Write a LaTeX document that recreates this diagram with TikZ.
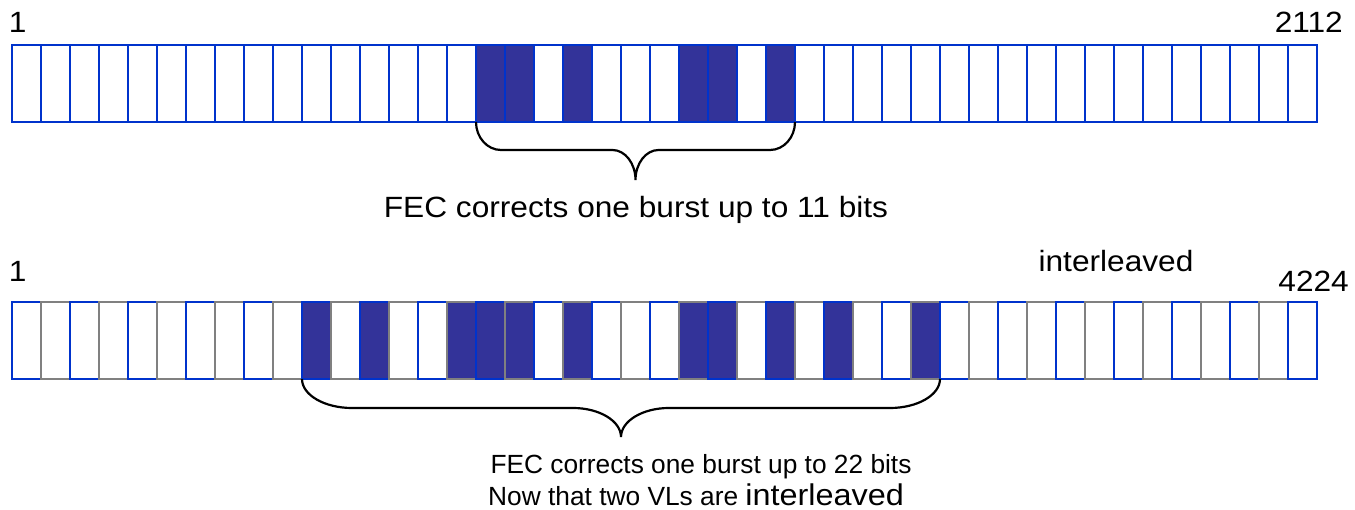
\documentclass[tikz,border=0pt]{standalone}
\usepackage{fontspec}
\setmainfont{Liberation Sans}
\newfontfamily\widefont{Liberation Sans}[FakeStretch=1.08]
\usetikzlibrary{calc}
\definecolor{vlblue}{RGB}{0,51,204}
\definecolor{shadefill}{RGB}{51,51,153}
\definecolor{vlgray}{RGB}{128,128,128}
\def\topshade{{0,0,0,0,0,0,0,0,0,0,0,0,0,0,0,0,1,1,0,1,0,0,0,1,1,0,1,0,0,0,0,0,0,0,0,0,0,0,0,0,0,0,0,0,0}}
\def\botshade{{0,0,0,0,0,0,0,0,0,0,1,0,1,0,0,1,1,1,0,1,0,0,0,1,1,0,1,0,1,0,0,1,0,0,0,0,0,0,0,0,0,0,0,0,0}}
\begin{document}
\begin{tikzpicture}[x=1pt,y=-1pt,
  cellbox/.style={draw, line width=2.4pt, inner sep=0pt, outer sep=0pt,
    minimum width=29pt, minimum height=77pt, anchor=north west},
  bigtext/.style={inner sep=0pt, font=\widefont\fontsize{29.3}{36}\selectfont},
  smalltext/.style={inner sep=0pt, font=\fontsize{26.3}{31}\selectfont},
  bracepath/.style={draw=black, line width=2.2pt}]
\useasboundingbox (0,0) rectangle (1355,510);
% top row
\foreach \i in {0,...,44}{
  \pgfmathtruncatemacro\s{\topshade[\i]}
  \ifnum\s=1 \def\cf{shadefill}\else\def\cf{white}\fi
  \node[cellbox, draw=vlblue, fill=\cf] (t\i) at ({12+29*\i},45) {};
}
% bottom row
\foreach \i in {0,...,44}{
  \pgfmathtruncatemacro\s{\botshade[\i]}
  \pgfmathtruncatemacro\e{mod(\i,2)}
  \ifnum\s=1 \def\cf{shadefill}\else\def\cf{white}\fi
  \ifnum\e=0 \def\bc{vlblue}\else\def\bc{vlgray}\fi
  \node[cellbox, draw=\bc, fill=\cf] (b\i) at ({12+29*\i},302) {};
}
% top brace
\coordinate (TA) at (t16.south west);
\coordinate (TB) at (t26.south east);
\coordinate (TM) at ($(TA)!0.5!(TB)$);
\path[bracepath] (TA) .. controls ($(TA)+(0,15.4)$) and ($(TA)+(11.2,28)$) .. ($(TA)+(25,28)$)
  -- ($(TM)+(-23,28)$) .. controls ($(TM)+(-10.3,28)$) and ($(TM)+(0,41.5)$) .. ($(TM)+(0,58)$)
  .. controls ($(TM)+(0,41.5)$) and ($(TM)+(10.3,28)$) .. ($(TM)+(23,28)$)
  -- ($(TB)+(-25,28)$) .. controls ($(TB)+(-11.2,28)$) and ($(TB)+(0,15.4)$) .. (TB);
% bottom brace
\coordinate (BA) at (b10.south west);
\coordinate (BB) at (b31.south east);
\coordinate (BM) at ($(BA)!0.5!(BB)$);
\path[bracepath] (BA) .. controls ($(BA)+(0,16)$) and ($(BA)+(22.5,29)$) .. ($(BA)+(50,29)$)
  -- ($(BM)+(-48,29)$) .. controls ($(BM)+(-21.6,29)$) and ($(BM)+(0,42)$) .. ($(BM)+(0,58)$)
  .. controls ($(BM)+(0,42)$) and ($(BM)+(21.6,29)$) .. ($(BM)+(48,29)$)
  -- ($(BB)+(-50,29)$) .. controls ($(BB)+(-22.5,29)$) and ($(BB)+(0,16)$) .. (BB);
% labels
\node[bigtext, anchor=base west] (l1) at (8.6,33) {1};
\node[bigtext, anchor=base east] (l2112) at (1343,33) {2112};
\node[bigtext, anchor=base] (cap1) at (636,218) {FEC corrects one burst up to 11 bits};
\node[bigtext, anchor=base] (inter) at (1116,271.7) {interleaved};
\node[bigtext, anchor=base west] (l1b) at (8.6,281.7) {1};
\node[bigtext, anchor=base east] (l4224) at (1349,291.7) {4224};
\node[smalltext, anchor=base] (cap2) at (701,473.3) {FEC corrects one burst up to 22 bits};
\node[smalltext, anchor=base west] (cap3) at (488,505) {Now that two VLs are {\widefont\fontsize{30}{36}\selectfont interleaved}};
\end{tikzpicture}
\end{document}
